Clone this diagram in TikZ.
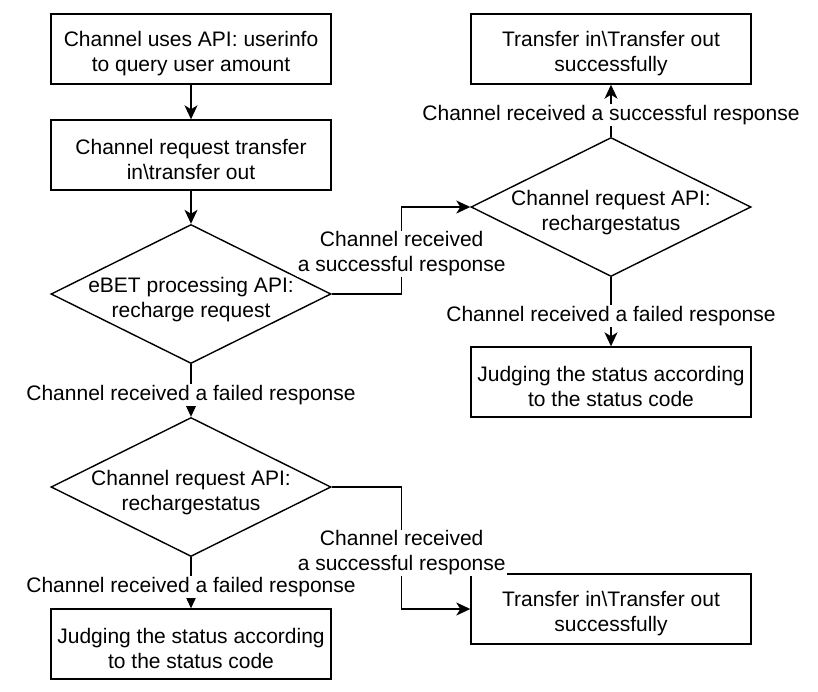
\documentclass[tikz,border=0pt]{standalone}
\usepackage{fontspec}
\setmainfont{Liberation Sans}
\usetikzlibrary{shapes.geometric, arrows, arrows.meta}

\begin{document}
\begin{tikzpicture}[x=1pt, y=-1pt, line width=1.4pt,
	every node/.style={font=\fontsize{21}{25}\selectfont, align=center},
	process/.style={rectangle, draw, minimum width=280pt, minimum height=70pt, inner sep=0pt, execute at begin node={\rule{0pt}{49pt}}},
	decision/.style={diamond, draw, minimum width=280pt, minimum height=139pt, inner sep=0pt},
	dtext/.style={yshift=-6pt},
	lbl/.style={fill=white, inner sep=1pt, yshift=-4.5pt},
	arr/.style={-{Stealth[length=14pt, width=13pt, inset=4pt]}},]
\useasboundingbox (0,0) rectangle (818,691);
% left column
\node[process] (query) at (191,49) {Channel uses API: userinfo\\to query user amount};
\node[process] (request) at (191,155) {Channel request transfer\\in\textbackslash transfer out};
\node[decision] (recharge) at (191,294) {};
\node[dtext] (rechargetxt) at (recharge) {eBET processing API:\\recharge request};
\node[decision] (statusl) at (191,487) {};
\node[dtext] (statusltxt) at (statusl) {Channel request API:\\rechargestatus};
\node[process] (judgel) at (191,644) {Judging the status according\\to the status code};
% right column
\node[process] (successr) at (611,49) {Transfer in\textbackslash Transfer out\\successfully};
\node[decision] (statusr) at (611,207) {};
\node[dtext] (statusrtxt) at (statusr) {Channel request API:\\rechargestatus};
\node[process] (judger) at (611,382) {Judging the status according\\to the status code};
\node[process] (successb) at (611,609) {Transfer in\textbackslash Transfer out\\successfully};

\draw[arr] (query) -- (request);
\draw[arr] (request) -- (recharge);
\draw[arr] (recharge.east) -- ++(70,0) |- node[lbl, yshift=4.5pt, pos=0.23] {Channel received\\a successful response} (statusr.west);
\draw[arr] (recharge.south) -- node[lbl] {Channel received a failed response} (statusl.north);
\draw[arr] (statusr.north) -- node[lbl] {Channel received a successful response} (successr.south);
\draw[arr] (statusr.south) -- node[lbl] {Channel received a failed response} (judger.north);
\draw[arr] (statusl.east) -- ++(70,0) |- node[lbl, yshift=4.5pt, pos=0.27] {Channel received\\a successful response} (successb.west);
\draw[arr] (statusl.south) -- node[lbl] {Channel received a failed response} (judgel.north);
\end{tikzpicture}
\end{document}
